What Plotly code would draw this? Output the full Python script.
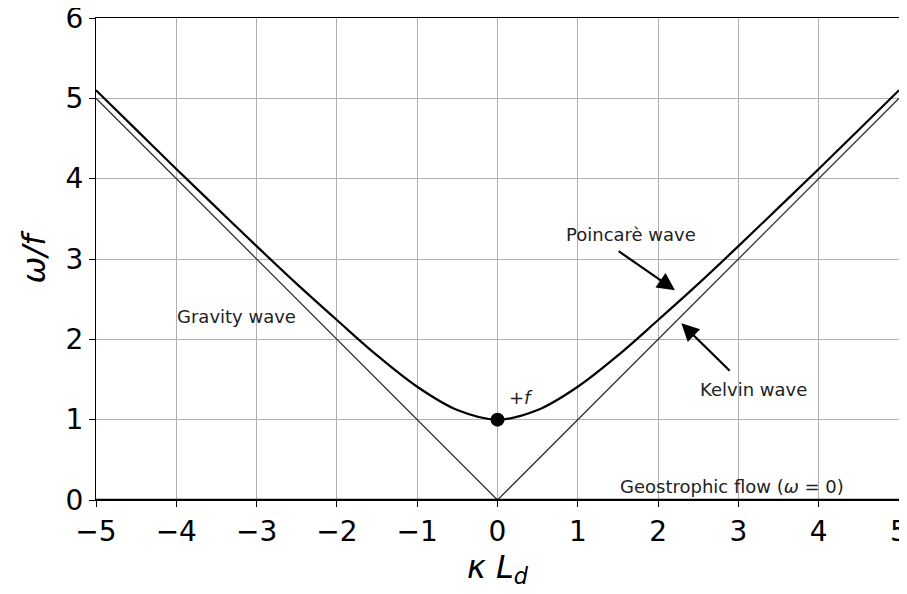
import plotly.graph_objects as go

# dispersion curve (omega/f vs kappa L_d)
k_vals = [-5, -4.5, -4, -3.5, -3, -2.5, -2, -1.5, -1, -0.5, 0,
          0.5, 1, 1.5, 2, 2.5, 3, 3.5, 4, 4.5, 5]
poincare = [5.10, 4.61, 4.12, 3.64, 3.16, 2.69, 2.24, 1.80, 1.41, 1.12, 1.0,
            1.12, 1.41, 1.80, 2.24, 2.69, 3.16, 3.64, 4.12, 4.61, 5.10]
# non-rotating gravity / kelvin wave lines
k_lines = [-5, 0, 5]
w_lines = [5, 0, 5]
# geostrophic flow
k_geo = [-5, 5]
w_geo = [0, 0]

x_ticks = [-5, -4, -3, -2, -1, 0, 1, 2, 3, 4, 5]
x_labels = ['\u22125', '\u22124', '\u22123', '\u22122', '\u22121', '0', '1', '2', '3', '4', '5']
y_ticks = [0, 1, 2, 3, 4, 5, 6]

fig = go.Figure()
fig.add_trace(go.Scatter(x=k_lines, y=w_lines, mode='lines', cliponaxis=False,
                         line=dict(color='#333333', width=1.3), showlegend=False))
fig.add_trace(go.Scatter(x=k_vals, y=poincare, mode='lines', line_shape='spline', cliponaxis=False,
                         line=dict(color='black', width=2.2), showlegend=False))
fig.add_trace(go.Scatter(x=k_geo, y=w_geo, mode='lines',
                         line=dict(color='black', width=2.5), showlegend=False))
fig.add_trace(go.Scatter(x=[0], y=[1], mode='markers',
                         marker=dict(color='black', size=14), showlegend=False))

txt = dict(family='DejaVu Sans', size=18, color='#222222')
fig.add_annotation(x=2.21, y=2.61, ax=1.49, ay=3.11, axref='x', ayref='y',
                   showarrow=True, arrowhead=2, arrowsize=1.6, arrowwidth=2.2, arrowcolor='black', text='')
fig.add_annotation(x=2.29, y=2.20, ax=2.91, ay=1.59, axref='x', ayref='y',
                   showarrow=True, arrowhead=2, arrowsize=1.6, arrowwidth=2.2, arrowcolor='black', text='')
fig.add_annotation(x=0.83, y=3.31, text='Poincar\u00e8 wave', showarrow=False, xanchor='left', font=txt)
fig.add_annotation(x=2.5, y=1.38, text='Kelvin wave', showarrow=False, xanchor='left', font=txt)
fig.add_annotation(x=-4.02, y=2.28, text='Gravity wave', showarrow=False, xanchor='left', font=txt)
fig.add_annotation(x=0.12, y=1.28, text='<i>+f</i>', showarrow=False, xanchor='left', font=txt)
fig.add_annotation(x=1.5, y=0.17, text='Geostrophic flow (<i>\u03c9</i> = 0)', showarrow=False,
                   xanchor='left', font=txt)

axis_common = dict(showline=True, linecolor='black', linewidth=1.3, mirror=True,
                   ticks='outside', ticklen=6, tickcolor='black', tickwidth=1.2,
                   showgrid=True, gridcolor='#b0b0b0', gridwidth=1, zeroline=False,
                   automargin=False, ticklabeloverflow='allow',
                   tickfont=dict(family='DejaVu Sans', size=28, color='black'))
fig.update_xaxes(range=[-5, 5], tickvals=x_ticks, ticktext=x_labels,
                 title=dict(text='<i>\u03ba L<sub>d</sub></i>', font=dict(family='DejaVu Sans', size=32),
                            standoff=6),
                 **axis_common)
fig.update_yaxes(range=[0, 6], tickvals=y_ticks,
                 title=dict(text='<i>\u03c9/f</i>', font=dict(family='DejaVu Sans', size=32), standoff=10),
                 **axis_common)
# page body has an 8px margin, so the figure is sized to fit the window
fig.update_layout(width=899, height=586, margin=dict(l=88, r=8, t=10, b=94),
                  plot_bgcolor='white', paper_bgcolor='white',
                  font=dict(family='DejaVu Sans', color='black'))

fig.write_html("out.html")
